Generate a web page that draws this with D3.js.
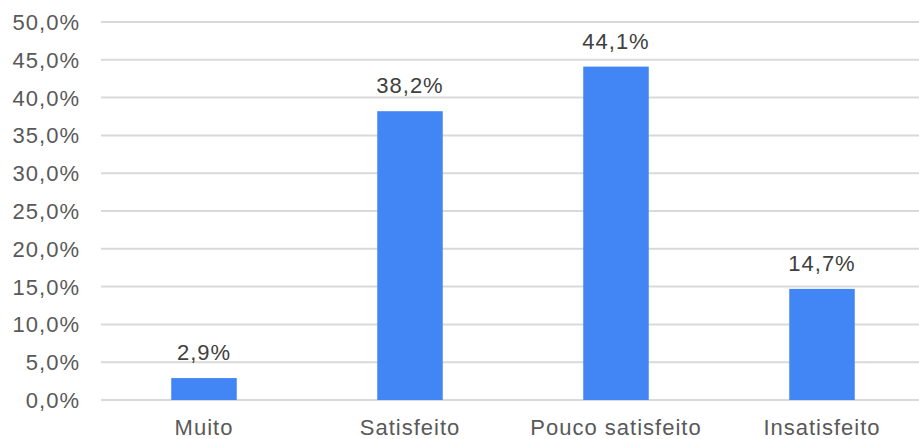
<!DOCTYPE html>
<html>
<head>
<meta charset="utf-8">
<script src="https://cdn.jsdelivr.net/npm/d3@7"></script>
<style>
  body { margin: 0; background: white; }
  svg { display: block; font-family: "Liberation Sans", Arial, sans-serif; }
  text { font-size: 22px; letter-spacing: 1px; }
</style>
</head>
<body>
<svg id="chart" width="919" height="439"></svg>
<script>
const categories = ["Muito", "Satisfeito", "Pouco satisfeito", "Insatisfeito"];
const values = [2.9, 38.2, 44.1, 14.7];
const yTicks = [0, 5, 10, 15, 20, 25, 30, 35, 40, 45, 50];

const svg = d3.select("#chart");
const width = 919, height = 439;
const margin = {top: 22, right: -6, bottom: 39, left: 101};

const fmt = v => v.toFixed(1).replace(".", ",") + "%";

const x = d3.scaleBand()
  .domain(categories)
  .range([margin.left, width - margin.right])
  .paddingInner(0.682)
  .paddingOuter(0.341);

const y = d3.scaleLinear()
  .domain([0, 50])
  .range([height - margin.bottom, margin.top]);

// gridlines
svg.append("g")
  .selectAll("line")
  .data(yTicks)
  .enter().append("line")
    .attr("x1", margin.left)
    .attr("x2", width)
    .attr("y1", d => y(d))
    .attr("y2", d => y(d))
    .style("stroke", "#d9d9d9")
    .style("stroke-width", 2);

// y labels
svg.append("g")
  .selectAll("text")
  .data(yTicks)
  .enter().append("text")
    .attr("x", 80)
    .attr("y", d => y(d))
    .attr("dy", "0.36em")
    .attr("text-anchor", "end")
    .style("fill", "#595959")
    .text(d => fmt(d));

// bars
svg.append("g")
  .selectAll("rect")
  .data(values)
  .enter().append("rect")
    .attr("x", (d, i) => x(categories[i]))
    .attr("y", d => y(d))
    .attr("width", x.bandwidth())
    .attr("height", d => y(0) - y(d))
    .style("fill", "#4285f4");

// value labels
svg.append("g")
  .selectAll("text")
  .data(values)
  .enter().append("text")
    .attr("x", (d, i) => x(categories[i]) + x.bandwidth() / 2)
    .attr("y", d => y(d) - 18)
    .attr("text-anchor", "middle")
    .style("fill", "#404040")
    .text(d => fmt(d));

// category labels
svg.append("g")
  .selectAll("text")
  .data(categories)
  .enter().append("text")
    .attr("x", d => x(d) + x.bandwidth() / 2)
    .attr("y", y(0) + 35)
    .attr("text-anchor", "middle")
    .style("fill", "#595959")
    .text(d => d);
</script>
</body>
</html>
